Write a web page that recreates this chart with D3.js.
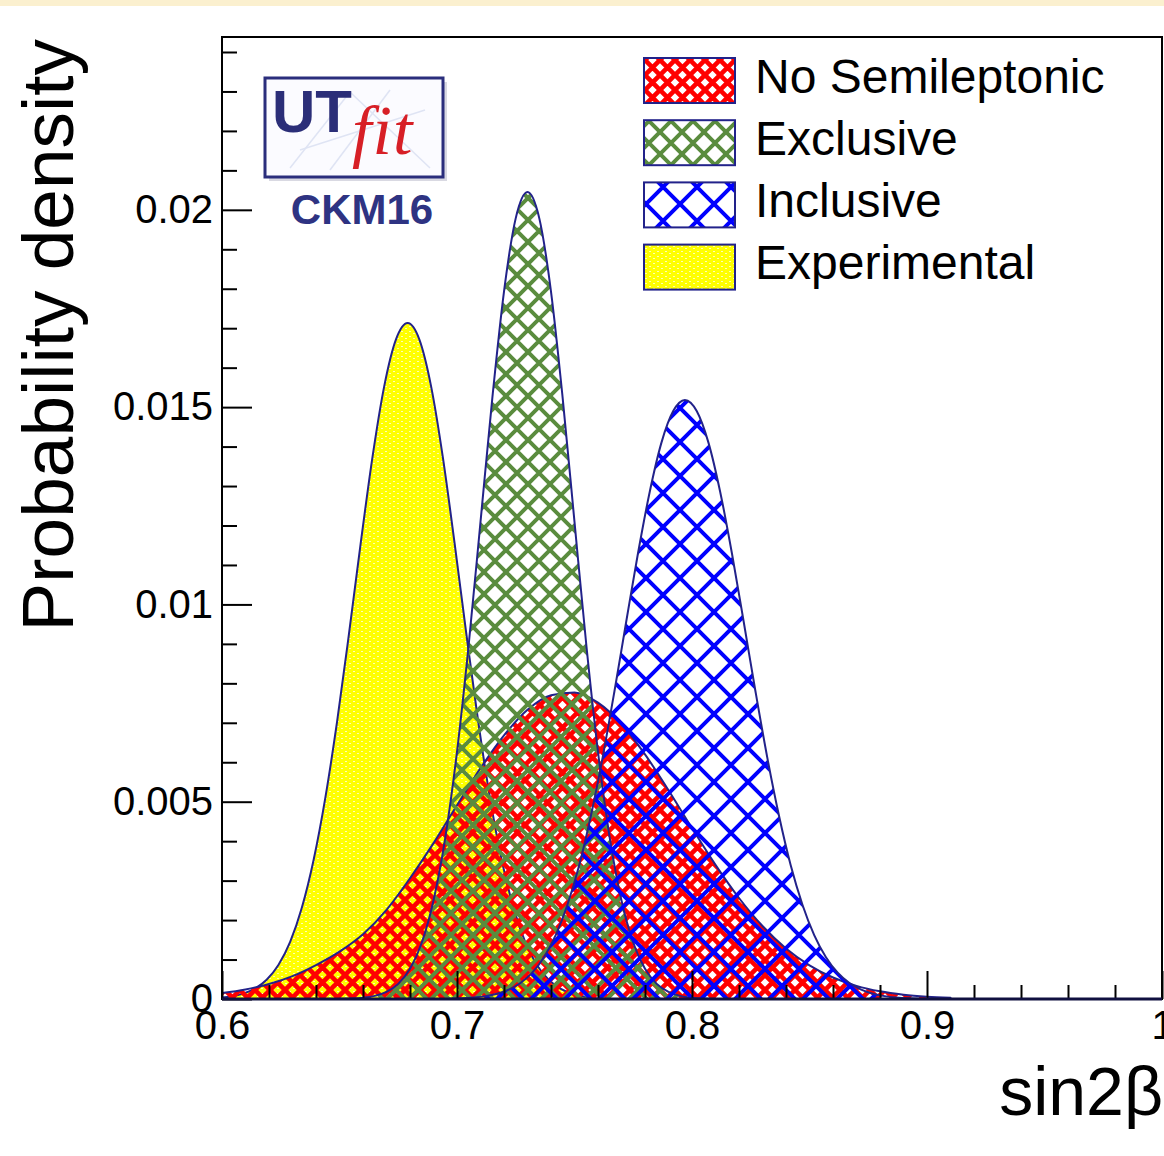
<!DOCTYPE html>
<html>
<head>
<meta charset="utf-8">
<script src="https://cdn.jsdelivr.net/npm/d3@7"></script>
<style>
  body { margin: 0; background: #fff; }
  svg { display: block; }
</style>
</head>
<body>
<svg id="chart" width="1164" height="1156"></svg>
<script>
// ---- data: sin2β posterior densities ----
const seriesNames = ["No Semileptonic", "Exclusive", "Inclusive", "Experimental"];

// No Semileptonic (red)
const noSlX = [0.60,0.61,0.62,0.63,0.64,0.65,0.66,0.67,0.68,0.69,0.70,0.71,0.72,0.73,0.74,0.75,
               0.76,0.77,0.78,0.79,0.80,0.81,0.82,0.83,0.84,0.85,0.86,0.87,0.88,0.89,0.90,0.91];
const noSlY = [0.00015,0.00024,0.00038,0.00058,0.00086,0.00120,0.00164,0.00226,0.00306,0.00395,
               0.00491,0.00585,0.00668,0.00733,0.00770,0.00777,0.00751,0.00697,0.00620,0.00529,
               0.00433,0.00340,0.00256,0.00185,0.00128,0.000854,0.000545,0.000333,0.000195,0.000110,
               0.0000594,0.00003];

// Exclusive (green)
const exclX = [0.650,0.655,0.660,0.665,0.670,0.675,0.680,0.685,0.690,0.695,0.700,0.705,0.710,0.715,
               0.720,0.725,0.730,0.735,0.740,0.745,0.750,0.755,0.760,0.765,0.770,0.775,0.780,0.785,
               0.790,0.795,0.800,0.805,0.810];
const exclY = [0.0000045,0.0000126,0.0000325,0.000079,0.000180,0.000383,0.000765,0.001426,0.002495,
               0.004084,0.006266,0.00899,0.01209,0.01521,0.01793,0.01979,0.02045,0.01979,0.01793,
               0.01521,0.01209,0.00899,0.006266,0.004084,0.002495,0.001426,0.000765,0.000383,
               0.000180,0.000079,0.0000325,0.0000126,0.0000045];

// Inclusive (blue)
const inclX = [0.697,0.702,0.707,0.712,0.717,0.722,0.727,0.732,0.737,0.742,0.747,0.752,0.757,0.762,
               0.767,0.772,0.777,0.782,0.787,0.792,0.797,0.802,0.807,0.812,0.817,0.822,0.827,0.832,
               0.837,0.842,0.847,0.852,0.857,0.862,0.867,0.872,0.877,0.882,0.887,0.892,0.897];
const inclY = [0.0000093,0.0000191,0.000038,0.0000726,0.000134,0.000237,0.000405,0.000667,0.00106,
               0.00162,0.00239,0.00339,0.00465,0.00613,0.00780,0.00956,0.01129,0.01285,0.01410,
               0.01490,0.01518,0.01490,0.01410,0.01285,0.01129,0.00956,0.00780,0.00613,0.00465,
               0.00339,0.00239,0.00162,0.00106,0.000667,0.000405,0.000237,0.000134,0.0000726,
               0.000038,0.0000191,0.0000093];

// Experimental (yellow)
const expX = [0.599,0.604,0.609,0.614,0.619,0.624,0.629,0.634,0.639,0.644,0.649,0.654,0.659,0.664,
              0.669,0.674,0.679,0.684,0.689,0.694,0.699,0.704,0.709,0.714,0.719,0.724,0.729,0.734,
              0.739,0.744,0.749,0.754,0.759];
const expY = [0.0000307,0.0000661,0.000136,0.000264,0.000489,0.000864,0.00145,0.00232,0.00353,
              0.00511,0.00704,0.00924,0.01154,0.01372,0.01552,0.01671,0.01713,0.01671,0.01552,
              0.01372,0.01154,0.00924,0.00704,0.00511,0.00353,0.00232,0.00145,0.000864,0.000489,
              0.000264,0.000136,0.0000661,0.0000307];

// axis ticks
const xMajorTicks = [0.6, 0.7, 0.8, 0.9, 1.0];
const xTickLabels = ["0.6", "0.7", "0.8", "0.9", "1"];
const yMajorTicks = [0, 0.005, 0.01, 0.015, 0.02];
const yTickLabels = ["0", "0.005", "0.01", "0.015", "0.02"];
const xTitle = "sin2β";
const yTitle = "Probability density";

// ---- layout ----
const W = 1164, H = 1156;
const plot = { left: 222, right: 1162, top: 37, bottom: 999 };
const navy = "#22228a";
const sans = "'Liberation Sans', Arial, Helvetica, sans-serif";
const serif = "'Liberation Serif', 'Times New Roman', Times, serif";

const svg = d3.select("#chart").style("font-family", sans);
svg.append("rect").attr("width", W).attr("height", H).attr("fill", "#fff");
svg.append("rect").attr("width", W).attr("height", 6).attr("fill", "#fbf0cf");

const x = d3.scaleLinear().domain([0.6, 1.0]).range([plot.left, plot.right]);
const y = d3.scaleLinear().domain([0, 0.02438]).range([plot.bottom, plot.top]);

// ---- fill patterns ----
const defs = svg.append("defs");

function crossHatch(id, size, color, width) {
  const p = defs.append("pattern").attr("id", id)
    .attr("patternUnits", "userSpaceOnUse").attr("width", size).attr("height", size);
  let d = "";
  for (const c of [-size, 0, size]) {
    d += `M${c - 2},${-2} L${c + size + 2},${size + 2} `;
    d += `M${c - 2},${size + 2} L${c + size + 2},${-2} `;
  }
  p.append("path").attr("d", d).attr("stroke", color).attr("stroke-width", width).attr("fill", "none");
}
crossHatch("patRed", 15, "#ff0000", 4.6);
crossHatch("patGreen", 22, "#5a8c3e", 4);
crossHatch("patBlue", 34, "#0000ff", 4);

const py = defs.append("pattern").attr("id", "patYellow")
  .attr("patternUnits", "userSpaceOnUse").attr("width", 8).attr("height", 5);
py.append("rect").attr("width", 8).attr("height", 5).attr("fill", "#ffff00");
py.append("rect").attr("x", 1).attr("y", 1).attr("width", 2).attr("height", 1).attr("fill", "#ffffb4");
py.append("rect").attr("x", 5).attr("y", 3).attr("width", 2).attr("height", 1).attr("fill", "#ffffb4");

defs.append("clipPath").attr("id", "plotClip").append("rect")
  .attr("x", plot.left).attr("y", plot.top)
  .attr("width", plot.right - plot.left).attr("height", plot.bottom - plot.top + 2);

// ---- density areas ----
const area = d3.area()
  .x(d => x(d[0]))
  .y0(y(0))
  .y1(d => y(d[1]))
  .curve(d3.curveMonotoneX);

const layers = [
  { xs: expX, ys: expY, fill: "url(#patYellow)" },
  { xs: noSlX, ys: noSlY, fill: "url(#patRed)" },
  { xs: exclX, ys: exclY, fill: "url(#patGreen)" },
  { xs: inclX, ys: inclY, fill: "url(#patBlue)" }
];

const gPlot = svg.append("g").attr("clip-path", "url(#plotClip)");
layers.forEach(l => {
  const pts = l.xs.map((v, i) => [v, l.ys[i]]);
  gPlot.append("path")
    .datum(pts)
    .attr("d", area)
    .attr("fill", l.fill)
    .attr("stroke", navy)
    .attr("stroke-width", 2)
    .attr("stroke-linejoin", "round");
});

// ---- axes ----
function styleAxis(g) {
  g.select(".domain").remove();
  g.selectAll("line").attr("stroke", "#000").attr("stroke-width", 2);
  g.selectAll("text").attr("font-size", 40).attr("fill", "#000").style("font-family", sans);
}

const xMinor = d3.range(0.62, 1.0, 0.02).filter(v => Math.abs(v * 10 - Math.round(v * 10)) > 1e-6);
svg.append("g").attr("transform", `translate(0,${plot.bottom})`)
  .call(d3.axisBottom(x).tickValues(xMinor).tickSize(-14).tickFormat(""))
  .call(styleAxis);
svg.append("g").attr("transform", `translate(0,${plot.bottom})`)
  .call(d3.axisBottom(x).tickValues(xMajorTicks).tickSize(-28).tickPadding(12)
    .tickFormat((d, i) => xTickLabels[i]))
  .call(styleAxis);

const yMinor = d3.range(0.001, 0.0244, 0.001).filter(v => Math.abs(v / 0.005 - Math.round(v / 0.005)) > 1e-6);
svg.append("g").attr("transform", `translate(${plot.left},0)`)
  .call(d3.axisLeft(y).tickValues(yMinor).tickSize(-15).tickFormat(""))
  .call(styleAxis);
svg.append("g").attr("transform", `translate(${plot.left},0)`)
  .call(d3.axisLeft(y).tickValues(yMajorTicks).tickSize(-30).tickPadding(9)
    .tickFormat((d, i) => yTickLabels[i]))
  .call(styleAxis);

// frame
svg.append("rect")
  .attr("x", plot.left).attr("y", plot.top)
  .attr("width", plot.right - plot.left).attr("height", plot.bottom - plot.top)
  .attr("fill", "none").attr("stroke", "#000").attr("stroke-width", 2);
svg.append("line")
  .attr("x1", plot.left).attr("x2", plot.right)
  .attr("y1", plot.bottom).attr("y2", plot.bottom)
  .attr("stroke", "#101040").attr("stroke-width", 3);

// axis titles
svg.append("text")
  .attr("x", 1163).attr("y", 1115)
  .attr("text-anchor", "end")
  .attr("font-size", 68)
  .attr("fill", "#000")
  .text(xTitle);

svg.append("text")
  .attr("transform", `translate(73,${plot.top + 2}) rotate(-90)`)
  .attr("text-anchor", "end")
  .attr("font-size", 73)
  .attr("fill", "#000")
  .text(yTitle);

// ---- legend ----
const legendFills = ["url(#patRed)", "url(#patGreen)", "url(#patBlue)", "url(#patYellow)"];
const lg = svg.append("g");
seriesNames.forEach((name, i) => {
  const top = 58 + i * 62.2;
  lg.append("rect")
    .attr("x", 644).attr("y", top).attr("width", 91).attr("height", 45)
    .attr("fill", legendFills[i]).attr("stroke", navy).attr("stroke-width", 2);
  lg.append("text")
    .attr("x", 755).attr("y", top + 34.5)
    .attr("font-size", 48).attr("fill", "#000")
    .text(name);
});

// ---- UTfit badge ----
const logo = svg.append("g");
logo.append("rect").attr("x", 269).attr("y", 82).attr("width", 178).attr("height", 99)
  .attr("fill", "#c9c9d6").attr("opacity", 0.7);
logo.append("rect").attr("x", 265).attr("y", 78).attr("width", 178).attr("height", 99)
  .attr("fill", "#fbfbff").attr("stroke", "#2b2e7c").attr("stroke-width", 3);
// faint background sketch lines
[[290, 168, 350, 92], [350, 92, 430, 168], [300, 150, 425, 110], [330, 170, 390, 90]].forEach(s => {
  logo.append("line").attr("x1", s[0]).attr("y1", s[1]).attr("x2", s[2]).attr("y2", s[3])
    .attr("stroke", "#dfe4f4").attr("stroke-width", 1.5);
});
logo.append("text").attr("x", 272).attr("y", 132)
  .attr("font-size", 60).attr("font-weight", "bold").attr("fill", "#2b2e78")
  .text("UT");
logo.append("text").attr("x", 352).attr("y", 154)
  .style("font-family", serif)
  .attr("font-style", "italic").attr("font-size", 70).attr("letter-spacing", 1)
  .attr("fill", "#d71f26")
  .text("fit");
logo.append("text").attr("x", 362).attr("y", 224).attr("text-anchor", "middle")
  .attr("font-size", 42).attr("font-weight", "bold").attr("fill", "#2e3382")
  .text("CKM16");
</script>
</body>
</html>
